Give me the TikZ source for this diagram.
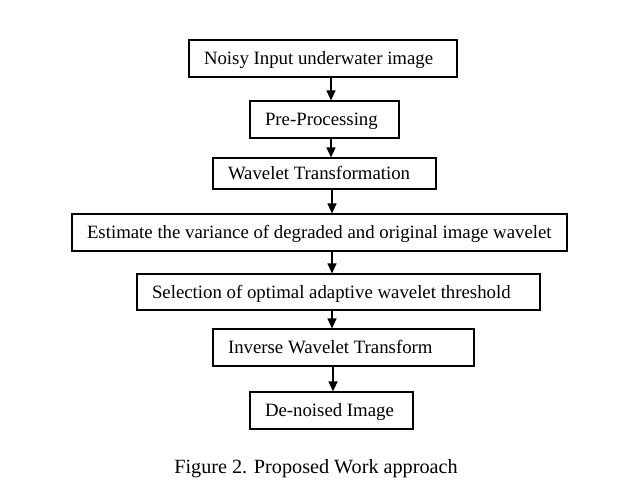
\documentclass[tikz,border=0pt]{standalone}
\usepackage{fontspec}
\setmainfont{Liberation Serif}
\usetikzlibrary{arrows.meta}
\begin{document}
\begin{tikzpicture}[x=1pt,y=-1pt,
  box/.style={draw=black,line width=1.2pt,inner xsep=15pt,inner ysep=0pt,align=flush left,
    text height=12.4pt,text depth=0pt,font=\fontsize{18.8}{22}\selectfont},
  arr/.style={line width=1.2pt,-{Triangle[length=10pt,width=9pt]}}]
\useasboundingbox (0,0) rectangle (617,484);
\node[box,minimum width=268pt,minimum height=37pt,text width=238pt] (b1) at (323,58.5) {\mbox{Noisy Input underwater image}};
\node[box,minimum width=149pt,minimum height=37pt,text width=119pt] (b2) at (324.5,119.5) {\mbox{Pre-Processing}};
\node[box,minimum width=223pt,minimum height=31pt,text width=193pt] (b3) at (324.5,173.5) {\mbox{Wavelet Transformation}};
\node[box,minimum width=495pt,minimum height=37pt,text width=465pt] (b4) at (319.5,232.5) {\mbox{Estimate the variance of degraded and original image wavelet}};
\node[box,minimum width=403pt,minimum height=36pt,text width=373pt] (b5) at (338.5,292) {\mbox{Selection of optimal adaptive wavelet threshold}};
\node[box,minimum width=261pt,minimum height=37pt,text width=231pt] (b6) at (343.5,347.5) {\mbox{Inverse Wavelet Transform}};
\node[box,minimum width=163pt,minimum height=37pt,text width=133pt] (b7) at (331.5,410.5) {\mbox{De-noised Image}};
\draw[arr] (331,0 |- b1.south) -- (331,0 |- b2.north);
\draw[arr] (331,0 |- b2.south) -- (331,0 |- b3.north);
\draw[arr] (332,0 |- b3.south) -- (332,0 |- b4.north);
\draw[arr] (332,0 |- b4.south) -- (332,0 |- b5.north);
\draw[arr] (332,0 |- b5.south) -- (332,0 |- b6.north);
\draw[arr] (333,0 |- b6.south) -- (333,0 |- b7.north);
\node[anchor=base,inner sep=0pt,font=\fontsize{20.2}{24}\selectfont] (cap) at (316,473) {Figure 2. Proposed Work approach};
\end{tikzpicture}
\end{document}
